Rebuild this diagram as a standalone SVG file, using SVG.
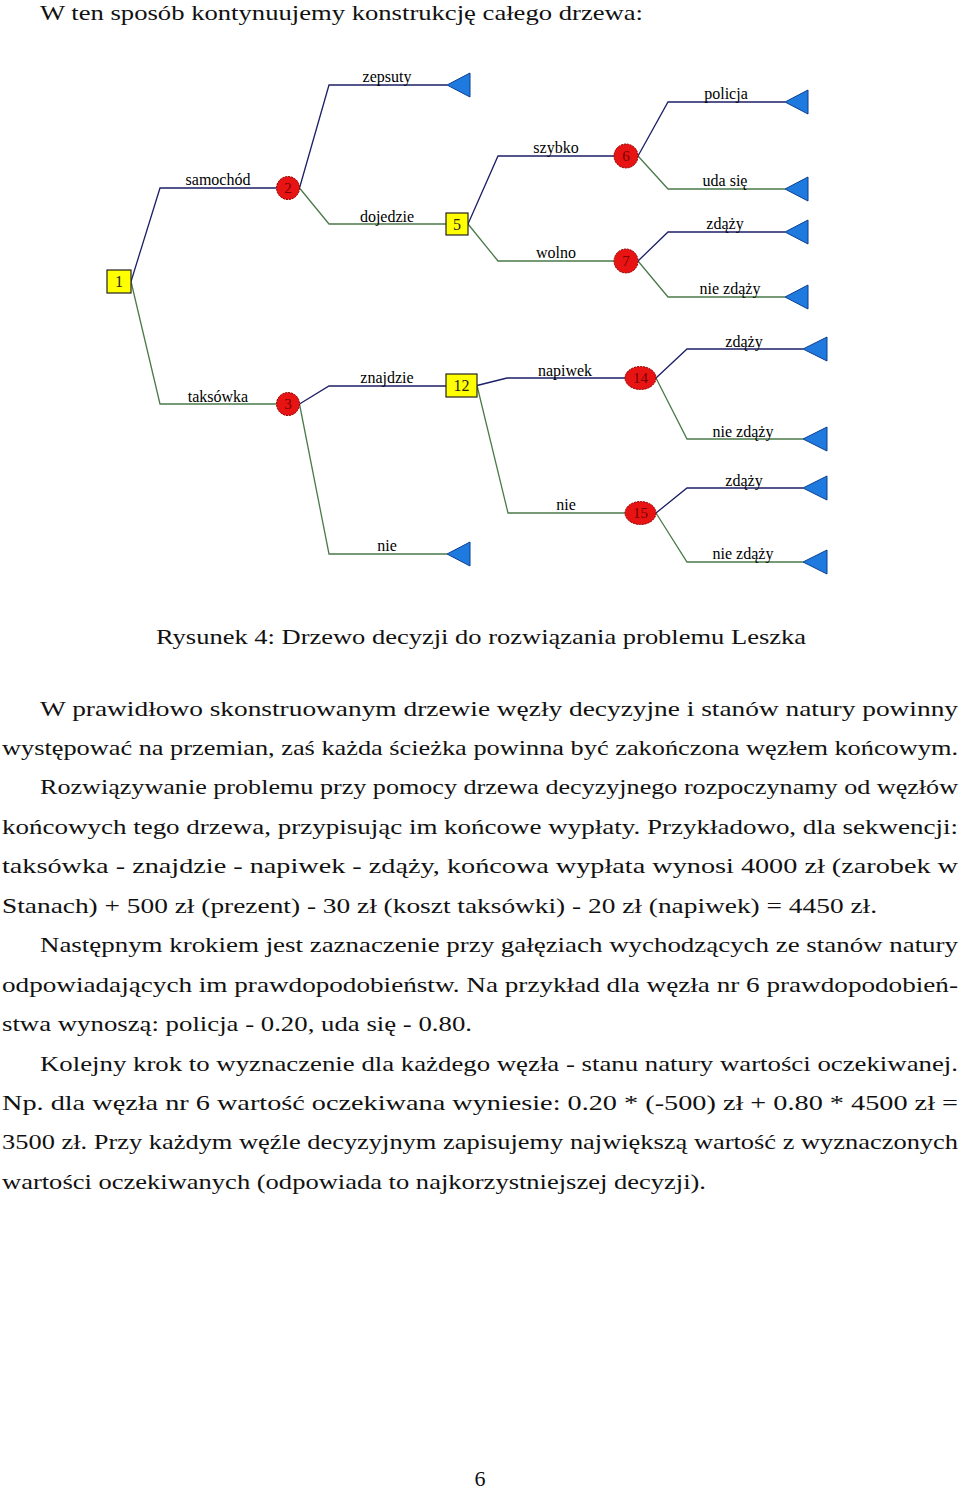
<svg xmlns="http://www.w3.org/2000/svg" width="960" height="1491" viewBox="0 0 960 1491">
<defs>
<style>
.bg{fill:#ffffff}
.up{fill:none;stroke:#1c1f66;stroke-width:1.3}
.dn{fill:none;stroke:#4a7a4a;stroke-width:1.3}
.lbl{font-family:"Liberation Serif","Times New Roman",serif;font-size:16px;fill:#000;text-anchor:middle}
.dec{fill:#ffff00;stroke:#222;stroke-width:1.2}
.chance{fill:#e81414;stroke:#8a0000;stroke-width:1;stroke-dasharray:2 1}
.end{fill:#1f7ae0;stroke:#0c3f8f;stroke-width:1}
.dnum{font-family:"Liberation Serif","Times New Roman",serif;font-size:16px;fill:#222;text-anchor:middle}
.cnum{font-family:"Liberation Serif","Times New Roman",serif;font-size:15px;fill:#7a0000;text-anchor:middle}
.body{font-family:"Liberation Serif","Times New Roman",serif;font-size:22px;fill:#111}
</style>
</defs>
<rect class="bg" x="0" y="0" width="960" height="1491"/>

<text class="body" x="40" y="20" textLength="603" lengthAdjust="spacingAndGlyphs">W ten sposób kontynuujemy konstrukcję całego drzewa:</text>

<g id="connectors">
<path class="up" d="M131,281.5 L160,188 H276.5"/>
<path class="dn" d="M131,281.5 L160,404 H276.5"/>
<path class="up" d="M299.5,188 L329,85 H447"/>
<path class="dn" d="M299.5,188 L329,224 H446"/>
<path class="up" d="M468,224 L498,156 H614"/>
<path class="dn" d="M468,224 L498,261 H614"/>
<path class="up" d="M638,156 L668,102 H785"/>
<path class="dn" d="M638,156 L668,189 H785"/>
<path class="up" d="M638,261 L668,232 H785"/>
<path class="dn" d="M638,261 L668,297 H785"/>
<path class="up" d="M299.5,404 L329,386 H446"/>
<path class="dn" d="M299.5,404 L329,554 H447"/>
<path class="up" d="M477,385.5 L507,378 H625"/>
<path class="dn" d="M477,385.5 L508,513 H625"/>
<path class="up" d="M656,378 L687,349 H803"/>
<path class="dn" d="M656,378 L687,439 H803"/>
<path class="up" d="M656,513 L687,488 H803"/>
<path class="dn" d="M656,513 L687,562 H803"/>
<text class="lbl" x="218" y="185">samochód</text>
<text class="lbl" x="218" y="401.5">taksówka</text>
<text class="lbl" x="387" y="82">zepsuty</text>
<text class="lbl" x="387" y="221.5">dojedzie</text>
<text class="lbl" x="387" y="382.5">znajdzie</text>
<text class="lbl" x="387" y="550.5">nie</text>
<text class="lbl" x="556" y="152.5">szybko</text>
<text class="lbl" x="556" y="257.5">wolno</text>
<text class="lbl" x="565" y="375.5">napiwek</text>
<text class="lbl" x="566" y="510">nie</text>
<text class="lbl" x="726" y="99">policja</text>
<text class="lbl" x="725" y="186">uda się</text>
<text class="lbl" x="725" y="228.5">zdąży</text>
<text class="lbl" x="730" y="293.5">nie zdąży</text>
<text class="lbl" x="744" y="346.5">zdąży</text>
<text class="lbl" x="743" y="436.5">nie zdąży</text>
<text class="lbl" x="744" y="485.5">zdąży</text>
<text class="lbl" x="743" y="558.5">nie zdąży</text>
</g>

<g id="n1"><rect class="dec" x="107" y="270" width="24" height="23"/><text class="dnum" x="119" y="287">1</text></g>
<g id="n2"><circle class="chance" cx="288" cy="188" r="11.5"/><text class="cnum" x="288" y="193">2</text></g>
<g id="n3"><circle class="chance" cx="288" cy="404" r="11.5"/><text class="cnum" x="288" y="409">3</text></g>
<g id="n5"><rect class="dec" x="446" y="213" width="22" height="22"/><text class="dnum" x="457" y="229.5">5</text></g>
<g id="n6"><circle class="chance" cx="626" cy="156" r="12"/><text class="cnum" x="626" y="161">6</text></g>
<g id="n7"><circle class="chance" cx="626" cy="261" r="12"/><text class="cnum" x="626" y="266">7</text></g>
<g id="n12"><rect class="dec" x="446" y="374" width="31" height="23"/><text class="dnum" x="461.5" y="391">12</text></g>
<g id="n14"><ellipse class="chance" cx="640.5" cy="378" rx="15.5" ry="11.5"/><text class="cnum" x="640.5" y="383">14</text></g>
<g id="n15"><ellipse class="chance" cx="640.5" cy="513" rx="15.5" ry="11.5"/><text class="cnum" x="640.5" y="518">15</text></g>

<g id="t_zepsuty"><polygon class="end" points="447,85 470,73 470,97"/></g>
<g id="t_policja"><polygon class="end" points="785,102 808,90 808,114"/></g>
<g id="t_udasie"><polygon class="end" points="785,189 808,177 808,201"/></g>
<g id="t_zdazy7"><polygon class="end" points="785,232 808,220 808,244"/></g>
<g id="t_niezdazy7"><polygon class="end" points="785,297 808,285 808,309"/></g>
<g id="t_nie3"><polygon class="end" points="447,554 470,542 470,566"/></g>
<g id="t_zdazy14"><polygon class="end" points="803,349 827,337 827,361"/></g>
<g id="t_niezdazy14"><polygon class="end" points="803,439 827,427 827,451"/></g>
<g id="t_zdazy15"><polygon class="end" points="803,488 827,476 827,500"/></g>
<g id="t_niezdazy15"><polygon class="end" points="803,562 827,550 827,574"/></g>

<text class="body" x="156" y="644" textLength="650" lengthAdjust="spacingAndGlyphs">Rysunek 4: Drzewo decyzji do rozwiązania problemu Leszka</text>

<g id="paragraphs">
<text class="body" x="40" y="715.5" textLength="918" lengthAdjust="spacingAndGlyphs">W prawidłowo skonstruowanym drzewie węzły decyzyjne i stanów natury powinny</text>
<text class="body" x="2" y="755" textLength="956" lengthAdjust="spacingAndGlyphs">występować na przemian, zaś każda ścieżka powinna być zakończona węzłem końcowym.</text>
<text class="body" x="40" y="794.4" textLength="918" lengthAdjust="spacingAndGlyphs">Rozwiązywanie problemu przy pomocy drzewa decyzyjnego rozpoczynamy od węzłów</text>
<text class="body" x="2" y="833.8" textLength="956" lengthAdjust="spacingAndGlyphs">końcowych tego drzewa, przypisując im końcowe wypłaty. Przykładowo, dla sekwencji:</text>
<text class="body" x="2" y="873.3" textLength="956" lengthAdjust="spacingAndGlyphs">taksówka - znajdzie - napiwek - zdąży, końcowa wypłata wynosi 4000 zł (zarobek w</text>
<text class="body" x="2" y="912.7" textLength="875" lengthAdjust="spacingAndGlyphs">Stanach) + 500 zł (prezent) - 30 zł (koszt taksówki) - 20 zł (napiwek) = 4450 zł.</text>
<text class="body" x="40" y="952.2" textLength="918" lengthAdjust="spacingAndGlyphs">Następnym krokiem jest zaznaczenie przy gałęziach wychodzących ze stanów natury</text>
<text class="body" x="2" y="991.6" textLength="956" lengthAdjust="spacingAndGlyphs">odpowiadających im prawdopodobieństw. Na przykład dla węzła nr 6 prawdopodobień-</text>
<text class="body" x="2" y="1031" textLength="470" lengthAdjust="spacingAndGlyphs">stwa wynoszą: policja - 0.20, uda się - 0.80.</text>
<text class="body" x="40" y="1070.5" textLength="918" lengthAdjust="spacingAndGlyphs">Kolejny krok to wyznaczenie dla każdego węzła - stanu natury wartości oczekiwanej.</text>
<text class="body" x="2" y="1110" textLength="956" lengthAdjust="spacingAndGlyphs">Np.  dla węzła nr 6 wartość oczekiwana wyniesie:  0.20 * (-500) zł + 0.80 * 4500 zł =</text>
<text class="body" x="2" y="1149.4" textLength="956" lengthAdjust="spacingAndGlyphs">3500 zł. Przy każdym węźle decyzyjnym zapisujemy największą wartość z wyznaczonych</text>
<text class="body" x="2" y="1188.8" textLength="704" lengthAdjust="spacingAndGlyphs">wartości oczekiwanych (odpowiada to najkorzystniejszej decyzji).</text>
</g>

<text class="body" x="480" y="1486" text-anchor="middle">6</text>
</svg>
